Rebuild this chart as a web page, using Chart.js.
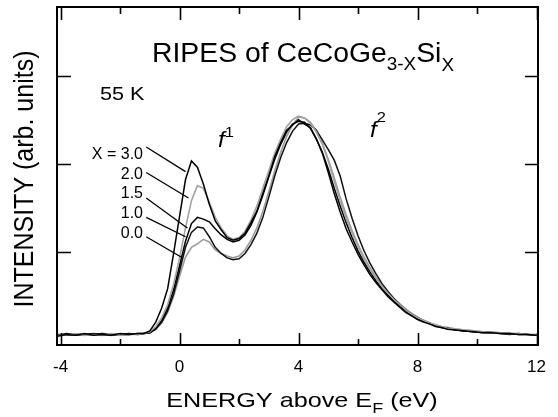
<!DOCTYPE html>
<html lang="en">
<head>
<meta charset="UTF-8">
<title>RIPES of CeCoGe3-xSix</title>
<script src="https://cdn.jsdelivr.net/npm/chart.js"></script>
<style>
  html, body { margin: 0; padding: 0; background: #fff; }
  #wrap { width: 558px; height: 417px; position: relative; }
</style>
</head>
<body>
<div id="wrap"><canvas id="ripes"></canvas></div>
<script>
// energy above E_F (eV), shared by all spectra
const energy = [
  -4.1, -3.8, -3.5, -3.2, -2.9, -2.6, -2.3, -2.0, -1.7, -1.4,
  -1.2, -1.0, -0.8, -0.6, -0.4, -0.2, 0.0, 0.2, 0.4, 0.6, 0.8, 1.0, 1.2, 1.4, 1.6, 1.8,
  2.0, 2.2, 2.4, 2.6, 2.8, 3.0, 3.2, 3.4, 3.6, 3.8, 4.0, 4.2, 4.4, 4.6, 4.8,
  5.0, 5.2, 5.4, 5.6, 5.8, 6.0, 6.2, 6.4, 6.6, 6.8, 7.0, 7.2, 7.4, 7.6, 7.8,
  8.0, 8.2, 8.4, 8.6, 8.8, 9.0,
  9.3, 9.6, 9.9, 10.2, 10.5, 10.8, 11.1, 11.4, 11.7, 12.0
];

// intensity (arb. units), one array per Si content
const x30 = [
  0.04, 0.06, 0.05, 0.07, 0.05, 0.06, 0.05, 0.07, 0.06, 0.07,
  0.07, 0.10, 0.20, 0.36, 0.58, 0.98, 1.40, 1.82, 2.03, 1.96, 1.77, 1.54, 1.35, 1.25, 1.16, 1.13,
  1.15, 1.21, 1.33, 1.46, 1.66, 1.86, 2.08, 2.24, 2.38, 2.44, 2.50, 2.45, 2.41, 2.28, 2.12,
  1.90, 1.66, 1.45, 1.26, 1.11, 0.97, 0.85, 0.74, 0.65, 0.57, 0.49, 0.43, 0.37, 0.31, 0.27,
  0.23, 0.20, 0.18, 0.15, 0.14, 0.12,
  0.11, 0.10, 0.09, 0.08, 0.08, 0.07, 0.07, 0.06, 0.06, 0.05
];
const x20 = [
  0.05, 0.05, 0.07, 0.05, 0.06, 0.05, 0.07, 0.05, 0.06, 0.06,
  0.07, 0.09, 0.15, 0.25, 0.40, 0.63, 0.93, 1.27, 1.58, 1.75, 1.72, 1.56, 1.39, 1.27, 1.18, 1.14,
  1.16, 1.23, 1.36, 1.52, 1.72, 1.92, 2.12, 2.28, 2.42, 2.50, 2.54, 2.52, 2.46, 2.36, 2.22,
  2.03, 1.80, 1.58, 1.38, 1.21, 1.06, 0.92, 0.80, 0.70, 0.61, 0.53, 0.46, 0.40, 0.34, 0.29,
  0.25, 0.22, 0.19, 0.17, 0.15, 0.13,
  0.12, 0.11, 0.10, 0.09, 0.08, 0.08, 0.07, 0.07, 0.06, 0.06
];
const x15 = [
  0.06, 0.05, 0.06, 0.06, 0.07, 0.05, 0.06, 0.06, 0.07, 0.06,
  0.07, 0.08, 0.13, 0.22, 0.36, 0.57, 0.84, 1.12, 1.32, 1.39, 1.37, 1.34, 1.26, 1.19, 1.14, 1.11,
  1.13, 1.19, 1.30, 1.45, 1.64, 1.85, 2.05, 2.22, 2.36, 2.45, 2.48, 2.47, 2.40, 2.28, 2.13,
  1.94, 1.72, 1.52, 1.33, 1.16, 1.01, 0.88, 0.77, 0.67, 0.58, 0.51, 0.44, 0.38, 0.33, 0.28,
  0.24, 0.21, 0.18, 0.16, 0.14, 0.13,
  0.11, 0.10, 0.09, 0.09, 0.08, 0.07, 0.07, 0.06, 0.06, 0.05
];
const x10 = [
  0.05, 0.07, 0.06, 0.05, 0.06, 0.07, 0.06, 0.05, 0.06, 0.07,
  0.07, 0.08, 0.12, 0.20, 0.33, 0.52, 0.78, 1.05, 1.22, 1.28, 1.27, 1.17, 1.05, 0.98, 0.93, 0.91,
  0.92, 0.98, 1.08, 1.21, 1.39, 1.62, 1.86, 2.07, 2.24, 2.37, 2.45, 2.46, 2.44, 2.38, 2.27,
  2.16, 2.04, 1.86, 1.60, 1.38, 1.18, 1.01, 0.87, 0.75, 0.64, 0.55, 0.47, 0.40, 0.34, 0.29,
  0.25, 0.22, 0.19, 0.16, 0.14, 0.13,
  0.11, 0.10, 0.09, 0.08, 0.08, 0.07, 0.06, 0.07, 0.06, 0.05
];
const x00 = [
  0.06, 0.06, 0.05, 0.06, 0.06, 0.07, 0.05, 0.06, 0.07, 0.06,
  0.07, 0.08, 0.12, 0.19, 0.31, 0.49, 0.72, 0.94, 1.05, 1.09, 1.14, 1.11, 1.02, 0.98, 0.95, 0.93,
  0.95, 1.02, 1.13, 1.27, 1.46, 1.68, 1.92, 2.13, 2.31, 2.44, 2.53, 2.52, 2.47, 2.37, 2.23,
  2.05, 1.84, 1.62, 1.42, 1.24, 1.08, 0.94, 0.82, 0.71, 0.62, 0.54, 0.47, 0.41, 0.35, 0.30,
  0.26, 0.22, 0.19, 0.17, 0.15, 0.14,
  0.12, 0.11, 0.10, 0.09, 0.09, 0.08, 0.07, 0.07, 0.06, 0.06
];

const seriesLabels = ['X = 3.0', '2.0', '1.5', '1.0', '0.0'];
const seriesValues = [x30, x20, x15, x10, x00];
const seriesColors = ['#000', '#a3a3a3', '#000', '#111', '#9c9c9c'];

const xLabelTicks = [-4, 0, 4, 8, 12];
const xMarkTicks = [-4, -2, 0, 2, 4, 6, 8, 10, 12];
const yMarkTicks = [1, 2, 3];

const FONT = '"Liberation Sans", Arial, Helvetica, sans-serif';

// leader lines from each label to its curve, in data units
const leaders = [
  [-1.12, 2.19, 0.20, 1.91],
  [-1.12, 1.90, 0.30, 1.61],
  [-1.12, 1.61, 0.26, 1.27],
  [-1.12, 1.39, 0.20, 1.17],
  [-1.12, 1.17, 0.05, 0.94]
];
const labelBaselines = [159, 179, 198, 218, 238];

// draws runs of text (for sub/superscripts), stretched horizontally by sx
function runsWidth(ctx, runs) {
  let w = 0;
  runs.forEach(r => { ctx.font = r.font; w += ctx.measureText(r.text).width; });
  return w;
}
function drawRuns(ctx, runs, x, baseline, sx) {
  ctx.save();
  ctx.translate(x, baseline);
  ctx.scale(sx, 1);
  let cx = 0;
  runs.forEach(r => {
    ctx.font = r.font;
    ctx.fillText(r.text, cx, r.dy || 0);
    cx += ctx.measureText(r.text).width;
  });
  ctx.restore();
}

const decor = {
  id: 'decor',
  afterDraw(chart) {
    const { ctx, chartArea: a, scales: { x, y } } = chart;
    ctx.save();
    ctx.strokeStyle = '#000';
    ctx.fillStyle = '#000';

    // leader lines
    ctx.lineWidth = 1.3;
    leaders.forEach(l => {
      ctx.beginPath();
      ctx.moveTo(x.getPixelForValue(l[0]), y.getPixelForValue(l[1]));
      ctx.lineTo(x.getPixelForValue(l[2]), y.getPixelForValue(l[3]));
      ctx.stroke();
    });

    // frame
    ctx.lineWidth = 2;
    ctx.strokeRect(a.left, a.top, a.width, a.height);

    // inward tick marks
    ctx.lineWidth = 1.6;
    xMarkTicks.forEach(v => {
      const px = Math.round(x.getPixelForValue(v)) + 0.5;
      const len = v % 4 === 0 ? 12 : 6;
      ctx.beginPath();
      ctx.moveTo(px, a.bottom); ctx.lineTo(px, a.bottom - len);
      ctx.moveTo(px, a.top); ctx.lineTo(px, a.top + len + 1);
      ctx.stroke();
    });
    yMarkTicks.forEach(v => {
      const py = Math.round(y.getPixelForValue(v)) + 0.5;
      ctx.beginPath();
      ctx.moveTo(a.left, py); ctx.lineTo(a.left + 14, py);
      ctx.moveTo(a.right, py); ctx.lineTo(a.right - 13, py);
      ctx.stroke();
    });

    ctx.textAlign = 'left';
    ctx.textBaseline = 'alphabetic';

    // title inside the frame
    drawRuns(ctx, [
      { text: 'RIPES of CeCoGe', font: '27px ' + FONT },
      { text: '3-X', font: '18px ' + FONT, dy: 8 },
      { text: 'Si', font: '27px ' + FONT },
      { text: 'X', font: '18px ' + FONT, dy: 9 }
    ], 152, 62, 1.05);

    drawRuns(ctx, [{ text: '55 K', font: '18px ' + FONT }], 100, 100, 1.2);

    // peak labels
    drawRuns(ctx, [
      { text: 'f', font: 'italic 22px ' + FONT },
      { text: '1', font: '15px ' + FONT, dy: -10 }
    ], 218, 147, 1.1);
    drawRuns(ctx, [
      { text: 'f', font: 'italic 22px ' + FONT },
      { text: '2', font: '15px ' + FONT, dy: -15 }
    ], 370, 137, 1.1);

    // series labels
    ctx.font = '16px ' + FONT;
    ctx.textAlign = 'right';
    seriesLabels.forEach((t, i) => ctx.fillText(t, 143, labelBaselines[i]));
    ctx.textAlign = 'left';

    // x axis title
    const xRuns = [
      { text: 'ENERGY above E', font: '21px ' + FONT },
      { text: 'F', font: '15px ' + FONT, dy: 6 },
      { text: ' (eV)', font: '21px ' + FONT }
    ];
    const xw = runsWidth(ctx, xRuns) * 1.2;
    drawRuns(ctx, xRuns, 302 - xw / 2, 407, 1.2);

    // y axis title
    ctx.save();
    ctx.translate(33, 179);
    ctx.rotate(-Math.PI / 2);
    ctx.scale(1, 1.1);
    ctx.font = '25px ' + FONT;
    ctx.textAlign = 'center';
    ctx.fillText('INTENSITY (arb. units)', 0, 0);
    ctx.restore();

    ctx.restore();
  }
};

const datasets = seriesValues.map((vals, i) => ({
  label: seriesLabels[i],
  data: energy.map((e, k) => ({ x: e, y: vals[k] })),
  borderColor: seriesColors[i],
  borderWidth: seriesColors[i] === '#000' || seriesColors[i] === '#111' ? 1.5 : 1.6,
  pointRadius: 0,
  showLine: true,
  tension: 0,
  fill: false
}));

new Chart(document.getElementById('ripes'), {
  type: 'scatter',
  data: { datasets: datasets },
  options: {
    responsive: true,
    maintainAspectRatio: false,
    animation: false,
    layout: { padding: { top: 7, right: 11, left: 0, bottom: 0 } },
    plugins: {
      legend: { display: false },
      tooltip: { enabled: false },
      title: { display: false }
    },
    scales: {
      x: {
        type: 'linear',
        min: -4.12,
        max: 12.05,
        grid: { display: false, drawTicks: false },
        border: { display: false },
        afterBuildTicks: s => { s.ticks = xLabelTicks.map(v => ({ value: v })); },
        afterFit: s => { s.height = 72; },
        ticks: {
          color: '#000',
          font: { family: FONT, size: 17 },
          padding: 12,
          maxRotation: 0,
          callback: v => String(v)
        }
      },
      y: {
        type: 'linear',
        min: -0.06,
        max: 3.78,
        grid: { display: false, drawTicks: false },
        border: { display: false },
        ticks: { display: false },
        afterFit: s => { s.width = 57; }
      }
    }
  },
  plugins: [decor]
});
</script>
</body>
</html>
